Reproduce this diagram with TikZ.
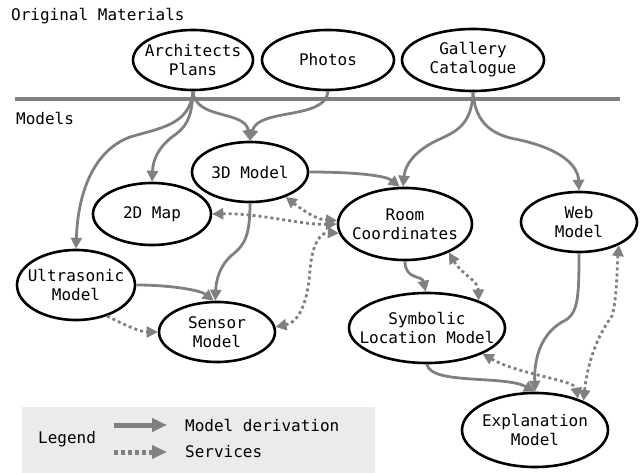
\documentclass[tikz,border=0pt]{standalone}
\usepackage{fontspec}
\setmonofont{DejaVu Sans Mono}
\usetikzlibrary{arrows.meta,shapes.geometric}
\definecolor{edgegray}{HTML}{808080}
\definecolor{leggray}{HTML}{EBEBEB}
\begin{document}
\begin{tikzpicture}[x=1pt,y=-1pt,
  mnode/.style={ellipse, draw=black, line width=2.6pt, inner sep=0pt},
  mtext/.style={inner sep=0pt, align=center, font=\ttfamily\fontsize{16}{19}\selectfont},
  lbl/.style={anchor=west, inner sep=0pt, font=\ttfamily\fontsize{16}{19}\selectfont},
  tip/.style={Triangle[length=11pt,width=11pt]},
  deriv/.style={draw=edgegray, line width=2.8pt, -{Triangle[length=11pt,width=11pt]}},
  serv/.style={draw=edgegray, line width=2.8pt, dash pattern=on 3pt off 3pt,
     {Triangle[length=11pt,width=11pt]}-{Triangle[length=11pt,width=11pt]}},
  servone/.style={draw=edgegray, line width=2.8pt, dash pattern=on 3pt off 3pt,
     -{Triangle[length=11pt,width=11pt]}}]
\useasboundingbox (0,0) rectangle (643,473);

% section labels and separator
\node[lbl] (origlbl) at (11,16) {Original Materials};
\node[lbl] (modlbl) at (16,118) {Models};
\coordinate (sepL) at (15,99);
\coordinate (sepR) at (620,99);
\draw[edgegray, line width=4pt] (sepL) -- (sepR);

% nodes
\node[mnode, minimum width=120pt, minimum height=60pt] (arch) at (193,60) {};
\node[mtext] (archT) at (arch) {Architects\\Plans};
\node[mnode, minimum width=132pt, minimum height=60pt] (photos) at (328,60) {};
\node[mtext] (photosT) at (photos) {Photos};
\node[mnode, minimum width=142pt, minimum height=62pt] (gallery) at (473,60) {};
\node[mtext] (galleryT) at (gallery) {Gallery\\Catalogue};
\node[mnode, minimum width=116pt, minimum height=60pt] (threeD) at (250,172) {};
\node[mtext] (threeDT) at (threeD) {3D Model};
\node[mnode, minimum width=118pt, minimum height=62pt] (twoD) at (152,214) {};
\node[mtext] (twoDT) at (twoD) {2D Map};
\node[mnode, minimum width=118pt, minimum height=70pt] (ultra) at (76,285) {};
\node[mtext] (ultraT) at (ultra) {Ultrasonic\\Model};
\node[mnode, minimum width=116pt, minimum height=60pt] (sensor) at (217,332) {};
\node[mtext] (sensorT) at (sensor) {Sensor\\Model};
\node[mnode, minimum width=134pt, minimum height=72pt] (room) at (405,224) {};
\node[mtext] (roomT) at (room) {Room\\Coordinates};
\node[mnode, minimum width=116pt, minimum height=60pt] (web) at (579,222) {};
\node[mtext] (webT) at (web) {Web\\Model};
\node[mnode, minimum width=156pt, minimum height=70pt] (sym) at (427,328) {};
\node[mtext] (symT) at (sym) {Symbolic\\Location Model};
\node[mnode, minimum width=146pt, minimum height=74pt] (expl) at (535,430) {};
\node[mtext] (explT) at (expl) {Explanation\\Model};

% model derivation
\draw[deriv] (arch.south) .. controls (190,125) and (160,128) .. (130,137)
   .. controls (95,150) and (78,190) .. (ultra.north);
\draw[deriv] (arch.south) .. controls (192,120) and (185,128) .. (172,137)
   .. controls (158,148) and (153,160) .. (twoD.north);
\draw[deriv] (arch.south) .. controls (195,120) and (245,110) .. (threeD.north);
\draw[deriv] (photos.south) .. controls (326,120) and (258,108) .. (threeD.north);
\draw[deriv] (gallery.south) .. controls (472,125) and (455,132) .. (440,139)
   .. controls (415,150) and (405,165) .. (room.93);
\draw[deriv] (gallery.south) .. controls (475,125) and (495,135) .. (515,139)
   .. controls (560,148) and (578,165) .. (web.north);
\draw[deriv] (threeD.east) .. controls (350,172) and (385,175) .. (room.98);
\draw[deriv] (threeD.south) .. controls (250,235) and (245,245) .. (232,255)
   .. controls (220,265) and (216,280) .. (sensor.93);
\draw[deriv] (ultra.east) .. controls (170,285) and (200,290) .. (sensor.96);
\draw[deriv] (room.south) .. controls (405,280) and (422,275) .. (sym.92);
\draw[deriv] (web.south) .. controls (579,300) and (578,315) .. (562,322)
   .. controls (540,335) and (534,360) .. (expl.north);
\draw[deriv] (sym.south) .. controls (430,385) and (505,375) .. (expl.north);

% services
\draw[serv] (twoD.east) .. controls (260,213) and (300,225) .. (room.180);
\draw[serv] (threeD.-35) .. controls (305,212) and (318,220) .. (room.177);
\draw[serv] (sensor.5) .. controls (300,322) and (308,300) .. (310,270)
   .. controls (312,245) and (320,232) .. (room.188);
\draw[servone] (ultra.-45) .. controls (125,325) and (140,332) .. (sensor.west);
\draw[serv] (room.-33) .. controls (462,275) and (478,280) .. (sym.28);
\draw[serv] (sym.-25) .. controls (520,375) and (575,380) .. (expl.36);
\draw[serv] (web.-30) .. controls (617,265) and (617,300) .. (612,316)
   .. controls (598,335) and (588,360) .. (expl.31);

% legend
\fill[leggray] (22,407) rectangle (375,473);
\node[lbl] (legT) at (38,439) {Legend};
\coordinate (l1a) at (114,425);
\coordinate (l1b) at (167,425);
\coordinate (l2a) at (114,452);
\coordinate (l2b) at (167,452);
\draw[edgegray, line width=5pt, -{Triangle[length=15pt,width=13pt]}] (l1a) -- (l1b);
\draw[edgegray, line width=5pt, dash pattern=on 4pt off 3pt, -{Triangle[length=15pt,width=13pt]}] (l2a) -- (l2b);
\node[lbl] (legD) at (185,425) {Model derivation};
\node[lbl] (legS) at (185,452) {Services};
\end{tikzpicture}
\end{document}
